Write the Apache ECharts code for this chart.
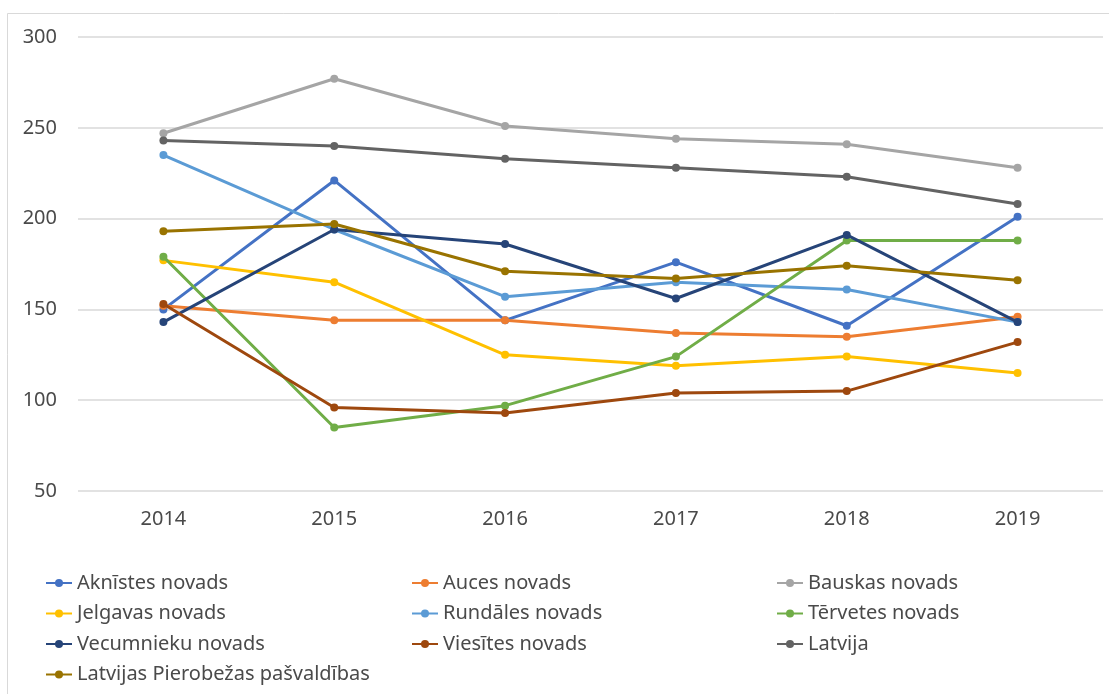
<!DOCTYPE html>
<html>
<head>
<meta charset="utf-8">
<script src="https://cdn.jsdelivr.net/npm/echarts@6/dist/echarts.min.js"></script>
<style>
html,body{margin:0;padding:0;background:#fff;}
#c{width:1109px;height:694px;}
</style>
</head>
<body>
<div id="c"></div>
<script>
const years = ['2014','2015','2016','2017','2018','2019'];
const yTicks = {min: 50, max: 300, interval: 50};

const aknistes   = [150, 221, 144, 176, 141, 201];
const auces      = [152, 144, 144, 137, 135, 146];
const bauskas    = [247, 277, 251, 244, 241, 228];
const jelgavas   = [177, 165, 125, 119, 124, 115];
const rundales   = [235, 194, 157, 165, 161, 143];
const tervetes   = [179, 85, 97, 124, 188, 188];
const vecumnieku = [143, 194, 186, 156, 191, 143];
const viesites   = [153, 96, 93, 104, 105, 132];
const latvija    = [243, 240, 233, 228, 223, 208];
const pierobezas = [193, 197, 171, 167, 174, 166];

const names = ['Aknīstes novads','Auces novads','Bauskas novads','Jelgavas novads','Rundāles novads','Tērvetes novads','Vecumnieku novads','Viesītes novads','Latvija','Latvijas Pierobežas pašvaldības'];
const values = [aknistes, auces, bauskas, jelgavas, rundales, tervetes, vecumnieku, viesites, latvija, pierobezas];
const colors = ['#4472C4','#ED7D31','#A5A5A5','#FFC000','#5B9BD5','#70AD47','#264478','#9E480E','#636363','#997300'];

const font = 'Noto Sans';
const txt = '#4a4a4a';

const series = names.map((n, i) => ({
  name: n,
  type: 'line',
  data: values[i],
  symbol: 'circle',
  symbolSize: 8,
  lineStyle: {width: 3, color: colors[i]},
  itemStyle: {color: colors[i]},
  z: 2 + i
}));

function legend(left, data) {
  return {
    orient: 'vertical', left: left, top: 568,
    itemWidth: 26, itemHeight: 10, itemGap: 10.5,
    textStyle: {fontFamily: font, fontSize: 20, color: txt, lineHeight: 20},
    data: data
  };
}

const chart = echarts.init(document.getElementById('c'), null, {renderer: 'canvas'});
chart.setOption({
  backgroundColor: '#fff',
  animation: false,
  color: colors,
  graphic: [{
    type: 'rect', shape: {x: 7.5, y: 13.5, width: 1110, height: 690},
    style: {fill: 'none', stroke: '#d9d9d9', lineWidth: 1}, silent: true
  }],
  grid: {left: 78, right: 6, top: 37, bottom: 203},
  xAxis: {
    type: 'category', data: years, boundaryGap: true,
    axisLine: {show: false}, axisTick: {show: false},
    axisLabel: {fontFamily: font, fontSize: 20, color: txt, margin: 18}
  },
  yAxis: {
    type: 'value', min: yTicks.min, max: yTicks.max, interval: yTicks.interval,
    axisLine: {show: false}, axisTick: {show: false},
    splitLine: {lineStyle: {color: '#d9d9d9', width: 1.5}},
    axisLabel: {fontFamily: font, fontSize: 20, color: txt, margin: 21}
  },
  legend: [
    legend(40, [names[0], names[3], names[6], names[9]]),
    legend(406, [names[1], names[4], names[7]]),
    legend(771, [names[2], names[5], names[8]])
  ],
  series: series
});
</script>
</body>
</html>
